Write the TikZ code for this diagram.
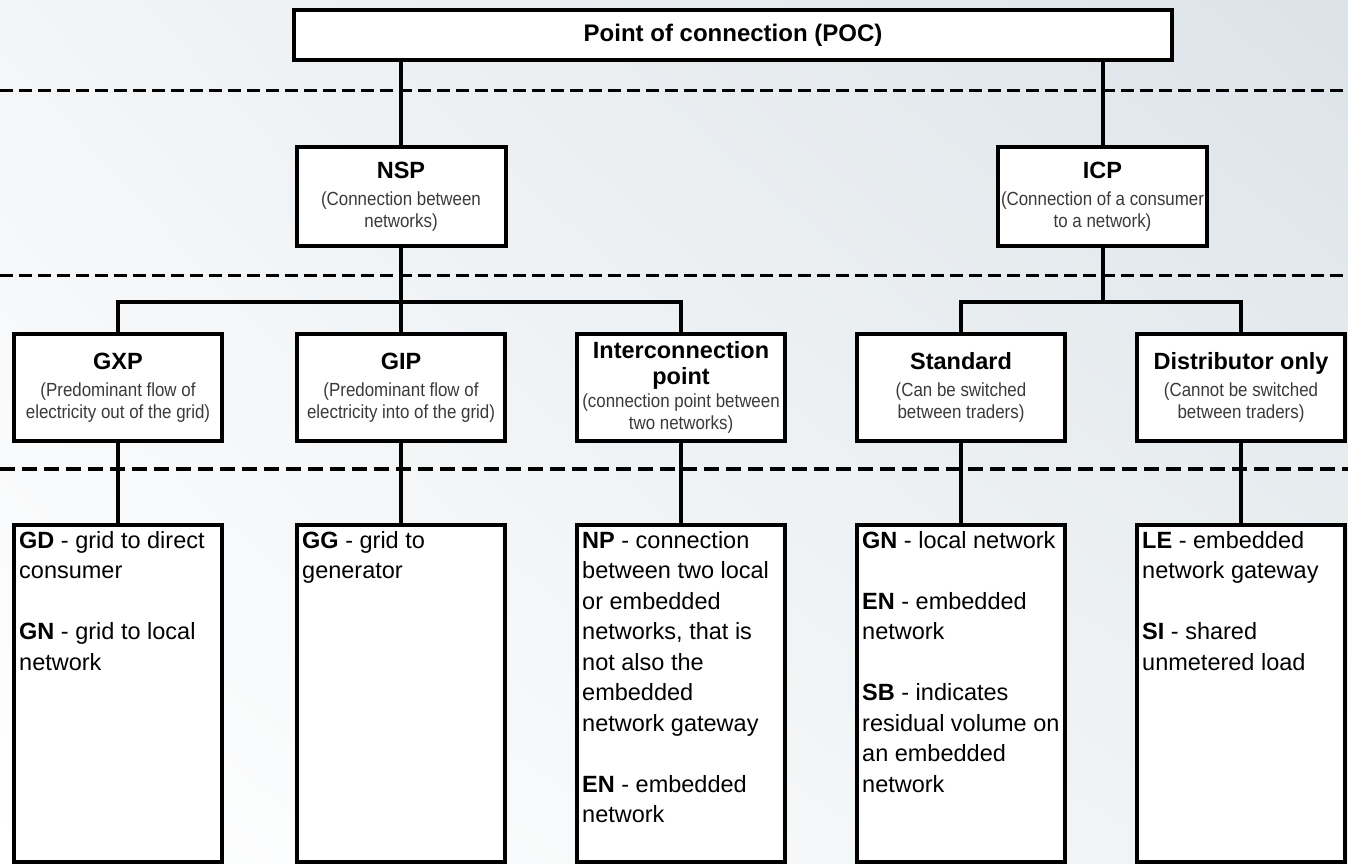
\documentclass[tikz,border=0pt]{standalone}
\usepackage{fontspec}
\usetikzlibrary{shadings}
\setmainfont{Liberation Sans}
\newfontfamily\narrowfont{Liberation Sans}[FakeStretch=0.89]
\definecolor{subgray}{HTML}{3A3A3A}
\definecolor{bgtl}{HTML}{F3F5F7}
\definecolor{bgtr}{HTML}{DCE3E8}
\definecolor{bgbr}{HTML}{EEF2F4}
\newcommand\headtitle[1]{{\normalfont\fontsize{23.5}{28}\selectfont\bfseries\color{black}#1}}
\begin{document}
\begin{tikzpicture}[x=1pt,y=-1pt,
  box/.style={draw=black, line width=4pt, fill=white, rectangle,
    inner sep=0pt, outer sep=0pt, line join=miter},
  headbox/.style={box, align=center, text=subgray,
    font=\narrowfont\fontsize{19}{22}\selectfont},
  listbox/.style={box, minimum width=208pt, minimum height=337pt},
  listtext/.style={anchor=north west, inner sep=0pt, align=left, text=black,
    font=\fontsize{23.5}{30.5}\selectfont},
  link/.style={line width=4pt, line join=miter},
  thinrule/.style={line width=3pt, dash pattern=on 13pt off 6pt},
  thickrule/.style={line width=4.5pt, dash pattern=on 15pt off 7pt}]

\useasboundingbox (0,0) rectangle (1348,863);
\shade[upper left=bgtl, upper right=bgtr, lower left=white, lower right=bgbr]
  (0,0) rectangle (1348,863);

% level separators
\draw[thinrule] (0,90) -- (1348,90);
\draw[thinrule] (0,275) -- (1348,275);
\draw[thickrule] (0,469) -- (1348,469);

% root
\node[box, minimum width=878pt, minimum height=50pt,
  font=\fontsize{24}{28}\selectfont\bfseries] (poc) at (733,35)
  {Point of connection (POC)};

% second level
\node[headbox, minimum width=209pt, minimum height=99pt] (nsp) at (401,196.5)
  {\headtitle{NSP}\\[5pt](Connection between\\networks)};
\node[headbox, minimum width=209pt, minimum height=99pt] (icp) at (1102.5,196.5)
  {\headtitle{ICP}\\[5pt](Connection of a consumer\\to a network)};

% third level
\node[headbox, minimum width=208pt, minimum height=107pt] (gxp) at (118,387.5)
  {\headtitle{GXP}\\[5pt](Predominant flow of\\electricity out of the grid)};
\node[headbox, minimum width=208pt, minimum height=107pt] (gip) at (401,387.5)
  {\headtitle{GIP}\\[5pt](Predominant flow of\\electricity into of the grid)};
\node[headbox, minimum width=208pt, minimum height=107pt] (icn) at (681,387.5)
  {\headtitle{Interconnection}\\[4pt]\headtitle{point}\\[1pt](connection point between\\two networks)};
\node[headbox, minimum width=208pt, minimum height=107pt] (std) at (961,387.5)
  {\headtitle{Standard}\\[5pt](Can be switched\\between traders)};
\node[headbox, minimum width=208pt, minimum height=107pt] (dist) at (1241,387.5)
  {\headtitle{Distributor only}\\[5pt](Cannot be switched\\between traders)};

% code lists
\node[listbox] (gd) at (118,693.5) {};
\node[listbox] (gg) at (401,693.5) {};
\node[listbox] (np) at (681,693.5) {};
\node[listbox] (gn) at (961,693.5) {};
\node[listbox] (le) at (1241,693.5) {};

\node[listtext] (gdtext) at ([shift={(5,6)}]gd.north west)
  {\textbf{GD} - grid to direct\\consumer\\[30.5pt]\textbf{GN} - grid to local\\network};
\node[listtext] (ggtext) at ([shift={(5,6)}]gg.north west)
  {\textbf{GG} - grid to\\generator};
\node[listtext] (nptext) at ([shift={(5,6)}]np.north west)
  {\textbf{NP} - connection\\between two local\\or embedded\\networks, that is\\not also the\\embedded\\network gateway\\[30.5pt]\textbf{EN} - embedded\\network};
\node[listtext] (gntext) at ([shift={(5,6)}]gn.north west)
  {\textbf{GN} - local network\\[30.5pt]\textbf{EN} - embedded\\network\\[30.5pt]\textbf{SB} - indicates\\residual volume on\\an embedded\\network};
\node[listtext] (letext) at ([shift={(5,6)}]le.north west)
  {\textbf{LE} - embedded\\network gateway\\[30.5pt]\textbf{SI} - shared\\unmetered load};

% connectors
\coordinate (bar) at (0,302);
\draw[link] (nsp.north |- poc.south) -- (nsp.north);
\draw[link] (icp.north |- poc.south) -- (icp.north);
\draw[link] (nsp.south) -- (gip.north);
\draw[link] (gxp.north) |- (icn.north |- bar) -- (icn.north);
\draw[link] (icp.south) -- (icp.south |- bar);
\draw[link] (std.north) |- (dist.north |- bar) -- (dist.north);
\draw[link] (gxp.south) -- (gd.north);
\draw[link] (gip.south) -- (gg.north);
\draw[link] (icn.south) -- (np.north);
\draw[link] (std.south) -- (gn.north);
\draw[link] (dist.south) -- (le.north);
\end{tikzpicture}
\end{document}
